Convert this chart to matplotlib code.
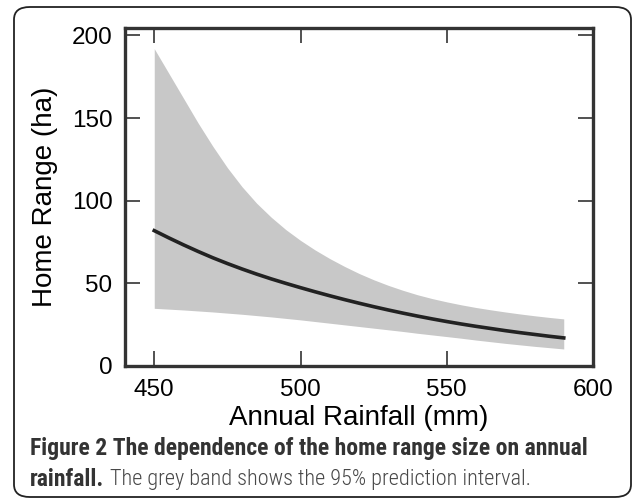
import matplotlib
matplotlib.use("Agg")
import matplotlib.pyplot as plt
from matplotlib.patches import FancyBboxPatch

# values
rainfall = [450, 455, 460, 465, 470, 475, 480, 485, 490, 495, 500, 505, 510, 515, 520,
            525, 530, 535, 540, 545, 550, 555, 560, 565, 570, 575, 580, 585, 590]
home_range = [81.9, 77.5, 73.3, 69.3, 65.5, 62.0, 58.7, 55.6, 52.7, 50.0, 47.4, 44.9, 42.5, 40.2, 38.0,
              35.9, 33.9, 32.0, 30.2, 28.5, 26.9, 25.4, 24.0, 22.7, 21.4, 20.2, 19.1, 18.0, 17.0]
upper_pi = [192, 177, 162, 147, 133, 120, 108.5, 98.5, 90, 82.5, 76, 70.2, 65, 60.3, 56,
            52.2, 48.8, 45.8, 43.1, 40.8, 38.8, 37, 35.4, 34, 32.7, 31.5, 30.4, 29.4, 28.5]
lower_pi = [34.9, 34.4, 33.9, 33.3, 32.7, 32.0, 31.3, 30.5, 29.7, 28.8, 27.9, 26.9, 25.9, 24.9, 23.9,
            22.9, 21.9, 20.9, 19.8, 18.8, 17.8, 16.8, 15.7, 14.7, 13.7, 12.8, 11.9, 11.1, 10.3]

x_ticks = [450, 500, 550, 600]
y_ticks = [0, 50, 100, 150, 200]

plt.rcParams['font.family'] = ['Liberation Sans', 'DejaVu Sans']

W, H = 633, 499
fig = plt.figure(figsize=(W / 100, H / 100), dpi=100)

# outer rounded frame
frame = FancyBboxPatch((14 / W, 2 / H), (631 - 14) / W, (492 - 2) / H,
                       boxstyle="round,pad=0,rounding_size=0.025",
                       transform=fig.transFigure, fill=False,
                       edgecolor='#222222', linewidth=1.3)
fig.patches.append(frame)

ax = fig.add_axes([125 / W, (H - 366) / H, (593 - 125) / W, (366 - 28) / H])

ax.fill_between(rainfall, lower_pi, upper_pi, color='#c8c8c8', linewidth=0)
ax.plot(rainfall, home_range, color='#222222', linewidth=2.6)

ax.set_xlim(440, 600)
ax.set_ylim(0, 204.5)
ax.set_xticks(x_ticks)
ax.set_yticks(y_ticks)

for s in ax.spines.values():
    s.set_linewidth(2.4)
    s.set_color('#333333')

ax.tick_params(direction='in', length=11, width=1.2, color='#333333',
               top=True, right=True, labelsize=17.5, pad=9)

ax.set_xlabel('Annual Rainfall (mm)', fontsize=20, labelpad=3)
ax.set_ylabel('Home Range (ha)', fontsize=20, labelpad=10)

# caption
cap_fam = ['Roboto Condensed', 'Roboto', 'DejaVu Sans']
cap_col = '#333333'
fig.text(30 / W, 1 - 449 / H, 'Figure 2 The dependence of the home range size on annual',
         fontsize=17, fontweight='bold', family=cap_fam,
         color=cap_col, va='center', ha='left')
t1 = fig.text(30 / W, 1 - 479 / H, 'rainfall.', fontsize=17, fontweight='bold',
              family=cap_fam, color=cap_col, va='center', ha='left')
fig.canvas.draw()
bb = t1.get_window_extent()
fig.text((bb.x1 + 6) / W, 1 - 479 / H, 'The grey band shows the 95% prediction interval.',
         fontsize=16, fontweight='light', family=cap_fam,
         color='#484848', va='center', ha='left')

fig.savefig('out.png', dpi=100)
